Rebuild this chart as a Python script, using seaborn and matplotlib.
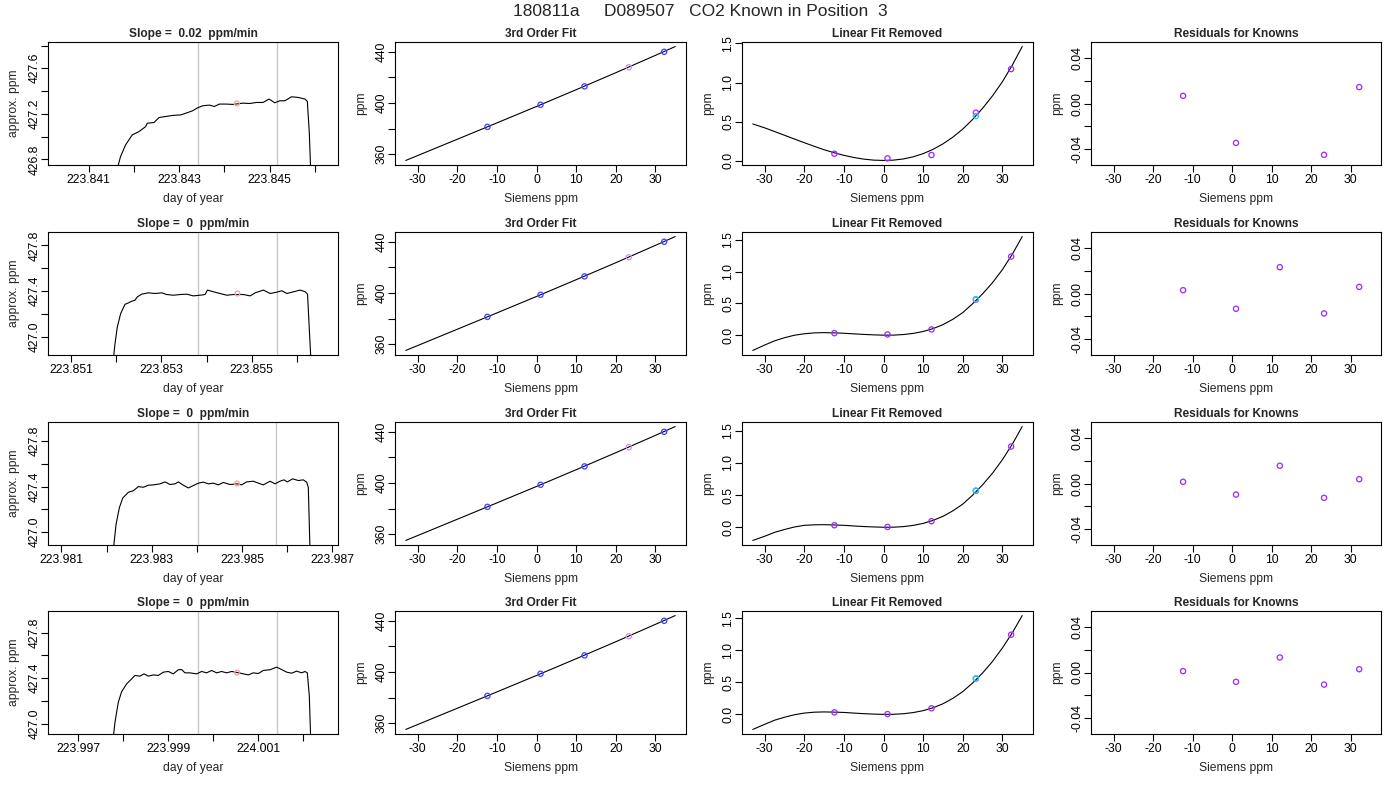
import numpy as np
import matplotlib
matplotlib.use("Agg")
import matplotlib.pyplot as plt
import seaborn as sns

# ------------------------------------------------------------
# Data
# ------------------------------------------------------------
main_title = "180811a     D089507   CO2 Known in Position  3"
slope_text = ["0.02", "0", "0", "0"]

# time series (day of year, approx. ppm) for each run
t1 = [223.84034, 223.84162, 223.841704, 223.841815, 223.841963, 223.842111, 223.842259,
      223.842296, 223.842444, 223.842556, 223.842704, 223.842852, 223.843037, 223.843148,
      223.843296, 223.843407, 223.843519, 223.843667, 223.843778, 223.843889, 223.844037,
      223.844185, 223.844407, 223.844556, 223.844704, 223.844852, 223.844985, 223.845111,
      223.845222, 223.845333, 223.845481, 223.845630, 223.845778, 223.845830, 223.845874,
      223.845904, 223.84627]
c1 = [420.0, 426.70, 426.824, 426.927, 427.015, 427.044, 427.088, 427.118, 427.124, 427.168,
      427.177, 427.186, 427.191, 427.206, 427.227, 427.253, 427.271, 427.277, 427.265, 427.286,
      427.286, 427.283, 427.294, 427.291, 427.300, 427.300, 427.330, 427.297, 427.315, 427.315,
      427.350, 427.344, 427.330, 427.309, 427.03, 426.70, 420.0]

t2 = [223.85073, 223.851937, 223.851974, 223.852025, 223.852099, 223.852195, 223.852269,
      223.852343, 223.852417, 223.852468, 223.852564, 223.852712, 223.852860, 223.853007,
      223.853118, 223.853266, 223.853413, 223.853561, 223.853709, 223.853856, 223.853967,
      223.854019, 223.854152, 223.854299, 223.854447, 223.854595, 223.854816, 223.854964,
      223.855075, 223.855259, 223.855407, 223.855554, 223.855665, 223.855776, 223.855924,
      223.856071, 223.856182, 223.856234, 223.856278, 223.856308, 223.85667]
c2 = [420.0, 426.80, 426.935, 427.083, 427.201, 427.283, 427.295, 427.310, 427.319, 427.348,
      427.372, 427.384, 427.378, 427.384, 427.369, 427.363, 427.369, 427.372, 427.357, 427.363,
      427.369, 427.408, 427.393, 427.378, 427.363, 427.369, 427.369, 427.357, 427.384, 427.408,
      427.378, 427.390, 427.402, 427.378, 427.393, 427.408, 427.393, 427.372, 427.024, 426.80,
      420.0]

t3 = [223.98094, 223.982151, 223.982210, 223.982284, 223.982358, 223.982483, 223.982594,
      223.982705, 223.982815, 223.982926, 223.983037, 223.983185, 223.983295, 223.983406,
      223.983517, 223.983591, 223.983701, 223.983812, 223.983923, 223.984034, 223.984144,
      223.984255, 223.984366, 223.984477, 223.984587, 223.984735, 223.984897, 223.984993,
      223.985104, 223.985252, 223.985363, 223.985473, 223.985621, 223.985732, 223.985842,
      223.985931, 223.986005, 223.986123, 223.986249, 223.986359, 223.986433, 223.986470,
      223.986507, 223.98689]
c3 = [420.0, 426.85, 427.068, 427.216, 427.299, 427.350, 427.364, 427.400, 427.394, 427.412,
      427.415, 427.424, 427.441, 427.418, 427.424, 427.441, 427.412, 427.388, 427.409, 427.430,
      427.439, 427.424, 427.430, 427.415, 427.436, 427.418, 427.424, 427.415, 427.441, 427.447,
      427.430, 427.415, 427.447, 427.424, 427.447, 427.459, 427.441, 427.468, 427.453, 427.459,
      427.439, 427.394, 426.85, 420.0]

t4 = [223.99656, 223.997775, 223.997812, 223.997886, 223.997961, 223.998072, 223.998183,
      223.998258, 223.998369, 223.998458, 223.998555, 223.998666, 223.998777, 223.998889,
      223.999000, 223.999111, 223.999223, 223.999297, 223.999371, 223.999483, 223.999631,
      223.999742, 223.999854, 223.999965, 224.000076, 224.000188, 224.000299, 224.000411,
      224.000537, 224.000670, 224.000782, 224.000893, 224.001004, 224.001116, 224.001264,
      224.001413, 224.001524, 224.001636, 224.001747, 224.001858, 224.001970, 224.002044,
      224.002096, 224.002140, 224.002170, 224.00254]
c4 = [420.0, 426.88, 427.012, 427.188, 427.282, 427.350, 427.394, 427.424, 427.418, 427.438,
      427.418, 427.429, 427.424, 427.453, 427.459, 427.438, 427.474, 427.476, 427.447, 427.447,
      427.438, 427.459, 427.447, 427.468, 427.447, 427.459, 427.447, 427.459, 427.450, 427.438,
      427.429, 427.447, 427.441, 427.468, 427.474, 427.497, 427.476, 427.453, 427.444, 427.462,
      427.447, 427.459, 427.447, 427.247, 426.88, 420.0]

# averaging window and its mean point
win_start = [223.843407, 223.853820, 223.984032, 223.999668]
win_end = [223.845164, 223.855554, 223.985762, 224.001410]
center_t = [223.844273, 223.854683, 223.984889, 224.000532]
center_ppm = [427.291, 427.378, 427.427, 427.450]

# known standards (Siemens ppm) and 3rd order fit
siemens_x = [-12.4, 1.0, 12.1, 23.3, 32.2]
known_ppm = [381.3, 398.6, 413.0, 428.0, 440.1]
unknown_idx = 3
fit_x = [-33, -20, -10, 0, 10, 20, 30, 35]
fit_ppm = [355.0, 371.6, 384.4, 397.3, 410.4, 423.7, 437.3, 444.2]

# linear fit removed: curve and points
curve_x = [-33, -30, -27.5, -25, -22.5, -20, -17.5, -15, -12.5, -10, -7.5, -5, -2.5, 0,
           2.5, 5, 7.5, 10, 12.5, 15, 17.5, 20, 22.5, 25, 27.5, 30, 32.5, 35]
lf1 = [0.47, 0.42, 0.373, 0.325, 0.277, 0.23, 0.184, 0.14, 0.102, 0.068, 0.041, 0.02, 0.007, 0.003,
       0.007, 0.022, 0.0495, 0.09, 0.145, 0.215, 0.3015, 0.405, 0.528, 0.67, 0.8295, 1.01, 1.223, 1.46]
lf2 = [-0.24, -0.155, -0.089, -0.04, -0.001, 0.022, 0.036, 0.04, 0.036, 0.03, 0.021, 0.012, 0.005, 0.0,
       0.001, 0.01, 0.028, 0.058, 0.103, 0.165, 0.25, 0.355, 0.495, 0.65, 0.825, 1.03, 1.273, 1.55]
lf3 = [-0.205, -0.14, -0.079, -0.035, 0.004, 0.03, 0.038, 0.04, 0.036, 0.03, 0.02, 0.011, 0.005, 0.0,
       0.001, 0.01, 0.029, 0.06, 0.107, 0.17, 0.255, 0.36, 0.50, 0.66, 0.84, 1.05, 1.291, 1.565]
lf4 = [-0.235, -0.155, -0.091, -0.045, -0.006, 0.02, 0.034, 0.038, 0.035, 0.03, 0.02, 0.011, 0.004, 0.0,
       0.001, 0.01, 0.028, 0.058, 0.103, 0.165, 0.25, 0.355, 0.49, 0.645, 0.825, 1.035, 1.271, 1.54]
lfp1 = [0.089, 0.030, 0.072, 0.614, 1.172]
lfp2 = [0.032, 0.011, 0.090, 0.560, 1.236]
lfp3 = [0.031, 0.005, 0.094, 0.568, 1.255]
lfp4 = [0.032, 0.005, 0.095, 0.558, 1.242]
cyan_pt = [0.571, 0.565, 0.568, 0.558]

# residuals for knowns (row 1, 12.1 is off scale)
res1 = [0.0067, -0.0346, np.nan, -0.0451, 0.0144]
res2 = [0.0029, -0.0134, 0.0231, -0.0175, 0.0058]
res3 = [0.0015, -0.0097, 0.0156, -0.0126, 0.0038]
res4 = [0.0012, -0.0082, 0.0132, -0.0106, 0.0029]
res_lim = 0.05

series_t = [t1, t2, t3, t4]
series_c = [c1, c2, c3, c4]
lf_curves = [lf1, lf2, lf3, lf4]
lf_points = [lfp1, lfp2, lfp3, lfp4]
residuals = [res1, res2, res3, res4]

# ------------------------------------------------------------
# Style
# ------------------------------------------------------------
sns.set_theme(style="ticks", rc={
    "axes.edgecolor": "black",
    "axes.linewidth": 0.8,
    "xtick.color": "black",
    "ytick.color": "black",
    "xtick.major.size": 5,
    "ytick.major.size": 5,
    "xtick.major.width": 0.8,
    "ytick.major.width": 0.8,
    "xtick.major.pad": 1.5,
    "ytick.major.pad": 0.5,
    "xtick.labelsize": 8.7,
    "ytick.labelsize": 8.7,
    "axes.labelsize": 8.7,
    "axes.unicode_minus": False,
})
plt.rcParams["font.family"] = ["Liberation Sans", "DejaVu Sans"]

BLUE = "#4646ff"
PLUM = "#cc99dd"
PURPLE = "#9b30ff"
CYAN = "#22ccee"
PINK = "#f4a0a8"
GRAY = "#c8c8c8"


def r_ticks(lo, hi, step):
    k0 = int(np.ceil(lo / step - 1e-9))
    k1 = int(np.floor(hi / step + 1e-9))
    return np.arange(k0, k1 + 1) * step


def pad_range(lo, hi, frac=0.04):
    d = (hi - lo) * frac
    return lo - d, hi + d


def set_ticks(axis, ticks, fmt, every=1):
    labels = [fmt % t if i % every == 0 else "" for i, t in enumerate(ticks)]
    axis.set_ticks(ticks)
    axis.set_ticklabels(labels)


def open_circles(ax, x, y, color, s=14):
    sns.scatterplot(x=x, y=y, ax=ax, marker="o", s=s, facecolor="none",
                    edgecolor=color, linewidth=0.95, zorder=3, legend=False)


def finish(ax, title, xlabel, ylabel):
    ax.set_title(title, fontsize=8.6, fontweight="bold", pad=3.6)
    ax.set_xlabel(xlabel, labelpad=5)
    ax.set_ylabel(ylabel, labelpad=6)
    ax.tick_params(axis="y", labelrotation=90)
    for lab in ax.get_yticklabels():
        lab.set_va("center")


# ------------------------------------------------------------
# Figure layout (pixel boxes of the panels)
# ------------------------------------------------------------
W, H = 1400, 800
col_left = [48, 395, 742, 1091]
col_width = [290, 291, 291, 290]
row_top = [42, 232, 422, 611]
panel_h = 123

fig = plt.figure(figsize=(W / 100, H / 100), dpi=100)
fig.text(0.5, 1 - 12 / H, main_title, ha="center", va="center", fontsize=12.5)

sx_lim = pad_range(min(curve_x), max(curve_x))

for r in range(4):
    axes = []
    for c in range(4):
        rect = [col_left[c] / W, 1 - (row_top[r] + panel_h) / H, col_width[c] / W, panel_h / H]
        axes.append(fig.add_axes(rect))
    ax1, ax2, ax3, ax4 = axes

    # --- time series
    t, y = series_t[r], series_c[r]
    for xv in (win_start[r], win_end[r]):
        ax1.axvline(xv, color=GRAY, lw=1.0, zorder=1)
    sns.lineplot(x=t, y=y, ax=ax1, color="black", lw=0.8, sort=False, estimator=None, zorder=2)
    open_circles(ax1, [center_t[r]], [center_ppm[r]], PINK, s=12)
    xl = pad_range(min(t), max(t))
    yl = pad_range(center_ppm[r] - 0.5, center_ppm[r] + 0.5)
    ax1.set_xlim(xl)
    ax1.set_ylim(yl)
    set_ticks(ax1.xaxis, r_ticks(xl[0], xl[1], 0.001), "%.3f", every=2)
    set_ticks(ax1.yaxis, r_ticks(yl[0], yl[1], 0.2), "%.1f", every=2)
    finish(ax1, "Slope =  %s  ppm/min" % slope_text[r], "day of year", "approx. ppm")

    # --- 3rd order fit
    sns.lineplot(x=fit_x, y=fit_ppm, ax=ax2, color="black", lw=0.8, sort=False, estimator=None)
    kx = [v for i, v in enumerate(siemens_x) if i != unknown_idx]
    ky = [v for i, v in enumerate(known_ppm) if i != unknown_idx]
    open_circles(ax2, kx, ky, BLUE)
    open_circles(ax2, [siemens_x[unknown_idx]], [known_ppm[unknown_idx]], PLUM)
    ax2.set_xlim(sx_lim)
    yl2 = pad_range(min(fit_ppm), max(fit_ppm))
    ax2.set_ylim(yl2)
    set_ticks(ax2.xaxis, r_ticks(-30, 30, 10), "%d")
    set_ticks(ax2.yaxis, r_ticks(yl2[0], yl2[1], 20), "%d", every=2)
    finish(ax2, "3rd Order Fit", "Siemens ppm", "ppm")

    # --- linear fit removed
    lf = lf_curves[r]
    sns.lineplot(x=curve_x, y=lf, ax=ax3, color="black", lw=0.8, sort=False, estimator=None)
    open_circles(ax3, siemens_x, lf_points[r], PURPLE)
    open_circles(ax3, [siemens_x[unknown_idx]], [cyan_pt[r]], CYAN)
    ax3.set_xlim(sx_lim)
    yl3 = pad_range(min(lf + lf_points[r]), max(lf + lf_points[r]))
    ax3.set_ylim(yl3)
    set_ticks(ax3.xaxis, r_ticks(-30, 30, 10), "%d")
    set_ticks(ax3.yaxis, r_ticks(yl3[0], yl3[1], 0.5), "%.1f")
    finish(ax3, "Linear Fit Removed", "Siemens ppm", "ppm")

    # --- residuals
    open_circles(ax4, siemens_x, residuals[r], PURPLE)
    ax4.set_xlim(sx_lim)
    yl4 = pad_range(-res_lim, res_lim)
    ax4.set_ylim(yl4)
    set_ticks(ax4.xaxis, r_ticks(-30, 30, 10), "%d")
    set_ticks(ax4.yaxis, r_ticks(yl4[0], yl4[1], 0.02), "%.2f", every=2)
    finish(ax4, "Residuals for Knowns", "Siemens ppm", "ppm")

fig.savefig("out.png", dpi=100)
plt.close(fig)
